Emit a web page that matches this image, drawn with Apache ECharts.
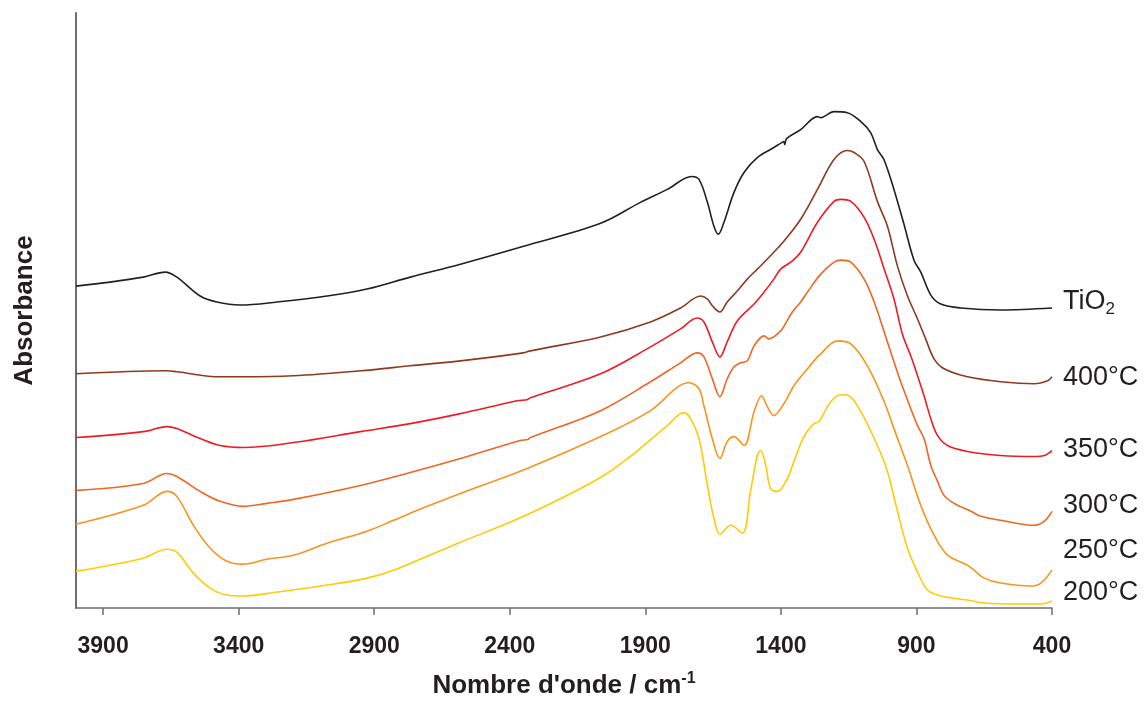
<!DOCTYPE html>
<html>
<head>
<meta charset="utf-8">
<script src="https://cdn.jsdelivr.net/npm/echarts@6/dist/echarts.min.js"></script>
<style>
html,body{margin:0;padding:0;background:#fff;}
#chart{width:1145px;height:704px;}
</style>
</head>
<body>
<div id="chart"></div>
<script>
// Tick labels (wavenumber, cm-1)
const xTicks = [3900, 3400, 2900, 2400, 1900, 1400, 900, 400];
const seriesNames = ['TiO2', '400°C', '350°C', '300°C', '250°C', '200°C'];

// [wavenumber, absorbance (a.u., offset-stacked)]
const tio2 = [[4000,3.23],[3874,3.27],[3752,3.32],[3671,3.37],[3628,3.32],[3542,3.13],[3481,3.07],[3395,3.04],[3259,3.07],[3074,3.13],[2927,3.20],[2767,3.32],[2582,3.45],[2349,3.63],[2065,3.86],[1918,4.07],[1819,4.20],[1729,4.33],[1702,4.30],[1671,4.07],[1647,3.83],[1631,3.75],[1610,3.87],[1573,4.17],[1536,4.37],[1487,4.52],[1426,4.62],[1397,4.67],[1389,4.68],[1386,4.65],[1379,4.71],[1327,4.80],[1265,4.93],[1253,4.92],[1204,4.98],[1155,4.97],[1105,4.88],[1069,4.77],[1044,4.60],[1020,4.50],[983,4.20],[946,3.85],[909,3.49],[884,3.37],[847,3.14],[810,3.05],[736,3.01],[589,2.99],[400,3.01]];

const c400 = [[4000,2.35],[3665,2.38],[3628,2.37],[3468,2.32],[3383,2.32],[3199,2.33],[2951,2.38],[2767,2.43],[2582,2.48],[2350,2.56],[2324,2.58],[2065,2.72],[1881,2.87],[1770,3.01],[1696,3.13],[1671,3.10],[1652,3.03],[1625,2.97],[1598,3.07],[1561,3.18],[1524,3.30],[1487,3.40],[1426,3.57],[1389,3.68],[1327,3.90],[1265,4.20],[1204,4.50],[1155,4.59],[1130,4.57],[1093,4.48],[1044,4.08],[1007,3.83],[970,3.43],[933,3.13],[896,2.90],[866,2.70],[835,2.50],[798,2.40],[712,2.32],[589,2.27],[466,2.25],[416,2.28],[400,2.32]];

const c350 = [[4000,1.71],[3752,1.77],[3665,1.82],[3628,1.80],[3542,1.70],[3468,1.63],[3382,1.61],[3198,1.66],[2951,1.77],[2767,1.85],[2582,1.95],[2373,2.08],[2336,2.09],[2324,2.11],[2065,2.35],[1881,2.62],[1770,2.80],[1709,2.91],[1684,2.87],[1653,2.67],[1625,2.52],[1598,2.67],[1561,2.88],[1499,3.05],[1462,3.17],[1426,3.30],[1401,3.40],[1364,3.47],[1327,3.57],[1265,3.87],[1204,4.08],[1179,4.10],[1142,4.08],[1093,3.92],[1056,3.70],[1019,3.40],[983,3.10],[952,2.75],[921,2.53],[896,2.33],[872,2.13],[847,1.90],[822,1.73],[785,1.63],[712,1.57],[589,1.53],[466,1.52],[429,1.53],[400,1.58]];

const c300 = [[4000,1.18],[3752,1.25],[3665,1.35],[3628,1.32],[3542,1.17],[3468,1.07],[3382,1.02],[3296,1.05],[3198,1.09],[2951,1.23],[2767,1.36],[2582,1.50],[2361,1.68],[2334,1.69],[2324,1.71],[2065,1.98],[1881,2.27],[1770,2.46],[1709,2.56],[1684,2.52],[1653,2.30],[1625,2.12],[1598,2.30],[1573,2.42],[1549,2.46],[1524,2.48],[1499,2.63],[1462,2.73],[1444,2.70],[1426,2.72],[1395,2.80],[1358,2.97],[1327,3.07],[1302,3.17],[1253,3.35],[1204,3.47],[1179,3.49],[1142,3.47],[1093,3.30],[1056,3.07],[1019,2.77],[983,2.47],[958,2.27],[921,2.00],[896,1.83],[872,1.70],[847,1.43],[822,1.27],[798,1.13],[761,1.05],[699,0.97],[662,0.92],[589,0.88],[466,0.83],[429,0.87],[400,0.97]];

const c250 = [[4000,0.84],[3752,1.03],[3665,1.17],[3628,1.12],[3567,0.83],[3505,0.60],[3444,0.47],[3382,0.44],[3296,0.49],[3198,0.53],[3074,0.65],[2927,0.77],[2829,0.88],[2705,1.02],[2582,1.15],[2336,1.40],[2041,1.75],[1881,1.98],[1739,2.26],[1702,2.20],[1684,2.03],[1653,1.70],[1625,1.50],[1598,1.67],[1573,1.72],[1536,1.63],[1499,1.97],[1471,2.13],[1450,2.02],[1426,1.93],[1389,2.05],[1352,2.23],[1302,2.40],[1265,2.52],[1253,2.55],[1216,2.65],[1192,2.68],[1142,2.65],[1081,2.43],[1019,2.07],[983,1.80],[933,1.43],[884,1.03],[835,0.73],[785,0.53],[712,0.43],[688,0.38],[650,0.30],[589,0.25],[478,0.22],[441,0.25],[400,0.38]];

const c200 = [[4000,0.37],[3752,0.50],[3665,0.59],[3628,0.56],[3567,0.35],[3505,0.20],[3444,0.13],[3382,0.12],[3259,0.16],[3074,0.23],[2927,0.30],[2829,0.38],[2705,0.52],[2582,0.66],[2349,0.92],[2065,1.31],[1942,1.55],[1819,1.83],[1758,1.96],[1733,1.90],[1702,1.70],[1671,1.23],[1647,0.90],[1625,0.74],[1585,0.83],[1542,0.75],[1512,1.17],[1487,1.53],[1475,1.58],[1456,1.43],[1438,1.20],[1413,1.17],[1376,1.30],[1352,1.47],[1315,1.72],[1278,1.85],[1260,1.87],[1216,2.07],[1179,2.14],[1149,2.13],[1105,1.97],[1044,1.63],[1007,1.37],[970,0.97],[933,0.60],[896,0.36],[859,0.18],[810,0.12],[712,0.08],[650,0.05],[528,0.04],[441,0.04],[400,0.07]];

const allData = [tio2, c400, c350, c300, c250, c200];
const colors = ['#231f20', '#8e3a22', '#ed1c24', '#f26522', '#f7941d', '#ffcb05'];
const labelOffsets = [[21, -6], [21, 1], [21, -1], [21, -6], [21, -20], [21, -8]];

const chart = echarts.init(document.getElementById('chart'));
const FONT = '"Liberation Sans", Arial, sans-serif';

const series = allData.map((d, i) => ({
  name: seriesNames[i],
  type: 'line',
  data: d,
  symbol: 'none',
  smooth: 0.35,
  lineStyle: { color: colors[i], width: 1.6 },
  itemStyle: { color: colors[i] },
  z: 10 - i,
  endLabel: {
    show: true,
    distance: 10,
    align: 'left',
    offset: labelOffsets[i],
    formatter: i === 0 ? 'TiO{sub|2}' : seriesNames[i],
    color: '#231f20',
    fontFamily: FONT,
    fontSize: 27,
    rich: {
      sub: { fontSize: 17, fontFamily: FONT, color: '#231f20', verticalAlign: 'bottom', padding: [14, 0, 0, 0] }
    }
  }
}));

chart.setOption({
  animation: false,
  backgroundColor: '#ffffff',
  grid: { left: 76, right: 93, top: 13, bottom: 94, containLabel: false },
  xAxis: {
    type: 'value',
    inverse: true,
    min: 400,
    max: 4000,
    name: "Nombre d'onde / cm{sup|-1}",
    nameLocation: 'middle',
    nameGap: 63,
    nameTextStyle: {
      fontFamily: FONT, fontSize: 26, fontWeight: 'bold', color: '#231f20',
      rich: {
        sup: { fontSize: 16, fontWeight: 'bold', fontFamily: FONT, color: '#231f20', verticalAlign: 'top', padding: [0, 0, 14, 0] }
      }
    },
    splitLine: { show: false },
    axisLine: { onZero: false, lineStyle: { color: '#6d6d6d', width: 1.5 } },
    axisTick: { customValues: xTicks, length: 7, lineStyle: { color: '#6d6d6d', width: 1.5 } },
    axisLabel: {
      customValues: xTicks,
      margin: 27,
      formatter: v => String(v),
      fontFamily: FONT, fontSize: 23, fontWeight: 'bold', color: '#231f20'
    }
  },
  yAxis: {
    type: 'value',
    min: 0,
    max: 5.97,
    name: 'Absorbance',
    nameLocation: 'middle',
    nameGap: 38,
    nameRotate: 90,
    nameTextStyle: { fontFamily: FONT, fontSize: 26, fontWeight: 'bold', color: '#231f20' },
    splitLine: { show: false },
    axisTick: { show: false },
    axisLabel: { show: false },
    axisLine: { show: true, lineStyle: { color: '#6d6d6d', width: 2 } }
  },
  series: series
});
</script>
</body>
</html>
